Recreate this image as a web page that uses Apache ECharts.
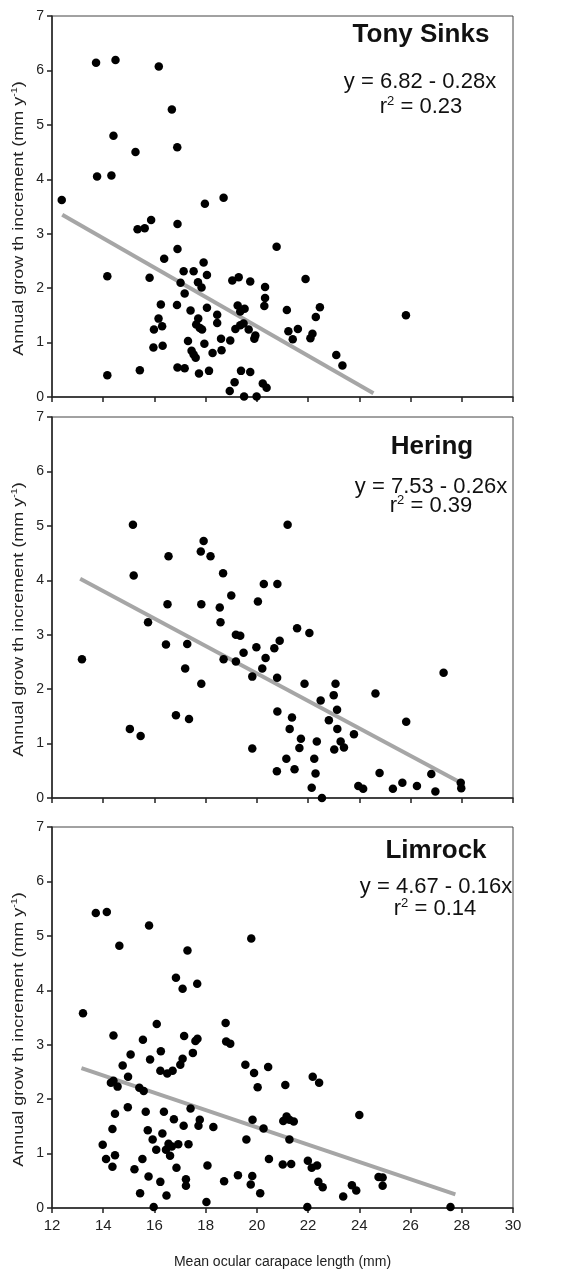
<!DOCTYPE html>
<html>
<head>
<meta charset="utf-8">
<script src="https://cdn.jsdelivr.net/npm/echarts@6/dist/echarts.min.js"></script>
<style>
html,body{margin:0;padding:0;background:#fff;}
#chart{width:574px;height:1270px;}
</style>
</head>
<body>
<div id="chart"></div>
<script>
// ---------- DATA ----------
var panelNames = ['Tony Sinks', 'Hering', 'Limrock'];
var equations = ['y = 6.82 - 0.28x', 'y = 7.53 - 0.26x', 'y = 4.67 - 0.16x'];
var rSquared = ['0.23', '0.39', '0.14'];
var xTicks = [12, 14, 16, 18, 20, 22, 24, 26, 28, 30];
var yTicks = [0, 1, 2, 3, 4, 5, 6, 7];

var tonyX = [12.38,13.72,14.48,16.17,16.68,14.40,15.26,16.89,13.76,14.32,17.97,18.70,15.34,15.62,15.87,16.90,16.90,20.77,16.38,14.16,
  15.81,17.14,17.53,17.92,18.05,17.02,17.70,17.84,17.18,19.04,19.29,19.74,20.32,20.32,20.29,21.90,16.25,16.88,17.41,18.05,
  18.45,18.45,19.25,19.35,19.52,16.16,16.30,17.71,17.63,17.77,17.86,15.98,19.16,19.35,19.48,19.68,19.94,19.90,21.17,21.23,
  21.60,21.40,22.46,22.30,22.17,22.09,25.82,15.96,16.32,17.31,17.45,17.53,17.61,17.95,18.60,18.27,18.62,18.96,23.10,23.34,
  14.16,15.43,16.90,17.18,17.74,18.13,19.38,19.74,19.13,18.94,19.50,19.99,20.23,20.38];
var tonyY = [3.62,6.14,6.19,6.07,5.28,4.80,4.50,4.59,4.05,4.07,3.55,3.66,3.08,3.10,3.25,3.18,2.72,2.76,2.54,2.22,
  2.19,2.31,2.31,2.47,2.24,2.10,2.11,2.01,1.90,2.14,2.20,2.12,2.02,1.82,1.67,2.17,1.70,1.69,1.59,1.64,
  1.51,1.36,1.68,1.57,1.62,1.44,1.30,1.44,1.33,1.27,1.24,1.24,1.25,1.32,1.35,1.24,1.13,1.07,1.60,1.21,
  1.25,1.06,1.65,1.47,1.16,1.08,1.50,0.91,0.94,1.03,0.85,0.78,0.72,0.98,1.07,0.81,0.86,1.04,0.77,0.58,
  0.40,0.49,0.54,0.53,0.43,0.48,0.48,0.46,0.27,0.11,0.01,0.01,0.25,0.17];
var tonyFitX = [12.4, 24.55];
var tonyFitY = [3.35, 0.07];

var heringX = [15.16,21.20,17.92,17.81,18.19,16.55,15.19,18.68,20.27,20.80,19.00,16.51,17.83,18.55,20.04,15.75,18.58,13.17,16.45,17.28,
  17.20,17.83,16.84,17.35,15.04,15.46,18.70,19.18,19.35,19.18,19.48,19.98,20.34,20.21,19.82,20.68,20.89,20.79,21.57,22.05,
  21.86,20.80,21.37,21.28,21.72,21.66,19.82,21.15,20.78,21.47,22.34,22.24,22.29,22.14,22.54,22.49,23.00,23.07,23.13,22.81,
  23.14,23.27,23.02,23.40,23.79,24.63,25.83,23.96,24.15,24.79,25.31,25.68,26.25,26.81,26.97,27.29,27.96,27.98];
var heringY = [5.02,5.02,4.72,4.53,4.44,4.44,4.09,4.13,3.93,3.93,3.72,3.56,3.56,3.50,3.61,3.23,3.23,2.55,2.82,2.83,
  2.38,2.10,1.52,1.45,1.27,1.14,2.55,3.00,2.98,2.51,2.67,2.77,2.57,2.38,2.23,2.75,2.89,2.21,3.12,3.03,
  2.10,1.59,1.48,1.27,1.09,0.92,0.91,0.72,0.49,0.53,1.04,0.72,0.45,0.19,0.00,1.79,1.89,2.10,1.62,1.43,
  1.27,1.04,0.89,0.93,1.17,1.92,1.40,0.22,0.17,0.46,0.17,0.28,0.22,0.44,0.12,2.30,0.28,0.18];
var heringFitX = [13.1, 28.0];
var heringFitY = [4.03, 0.27];

var limrockX = [13.21,13.71,14.14,14.63,15.79,19.78,17.29,16.84,17.10,17.67,16.09,18.78,14.40,15.55,17.16,17.60,17.68,18.80,18.96,16.25,
  17.50,15.07,14.76,15.83,17.10,17.01,16.23,16.50,16.71,19.55,19.89,20.44,20.03,21.11,22.18,22.43,14.97,14.30,14.40,14.56,
  15.41,15.58,14.96,14.46,14.36,15.66,16.37,16.76,17.14,17.41,17.72,17.77,18.30,15.74,16.31,19.83,20.26,19.59,21.03,21.16,
  21.27,21.44,21.27,24.00,13.98,14.11,14.36,14.46,15.22,15.53,15.93,16.07,16.45,16.55,16.61,16.68,16.93,17.33,16.86,18.07,
  15.77,15.44,16.23,16.47,15.97,17.23,17.23,18.03,18.72,19.26,19.82,19.76,20.13,20.47,21.01,21.34,21.99,22.14,22.35,22.40,
  22.57,21.97,23.37,23.71,23.88,24.75,24.91,24.91,27.56];
var limrockY = [3.58,5.42,5.44,4.82,5.19,4.95,4.73,4.23,4.03,4.12,3.38,3.40,3.17,3.09,3.16,3.07,3.11,3.06,3.02,2.88,
  2.85,2.82,2.62,2.73,2.74,2.63,2.52,2.47,2.52,2.63,2.48,2.59,2.22,2.26,2.41,2.30,2.41,2.30,2.34,2.23,
  2.21,2.15,1.85,1.73,1.45,1.77,1.77,1.63,1.51,1.83,1.51,1.62,1.49,1.43,1.37,1.62,1.46,1.26,1.60,1.68,
  1.62,1.59,1.26,1.71,1.16,0.90,0.76,0.97,0.71,0.90,1.26,1.07,1.07,1.18,0.96,1.13,1.17,1.17,0.74,0.78,
  0.58,0.27,0.48,0.23,0.02,0.53,0.41,0.11,0.49,0.60,0.59,0.43,0.27,0.90,0.80,0.81,0.87,0.74,0.78,0.48,
  0.38,0.02,0.21,0.42,0.32,0.57,0.56,0.41,0.02];
var limrockFitX = [13.15, 27.75];
var limrockFitY = [2.57, 0.25];

var xTitle = 'Mean ocular carapace length (mm)';
var yTitleMain = 'Annual grow th increment (mm y';
var yTitleSup = '-1';

// ---------- BUILD ----------
function zip(a, b) { var o = []; for (var i = 0; i < a.length; i++) o.push([a[i], b[i]]); return o; }
var ptsX = [tonyX, heringX, limrockX];
var ptsY = [tonyY, heringY, limrockY];
var fitX = [tonyFitX, heringFitX, limrockFitX];
var fitY = [tonyFitY, heringFitY, limrockFitY];

var FONT = '"Liberation Sans", Arial, Helvetica, sans-serif';
var tops = [16, 417, 827];
var plotH = 381;
var gridLeft = 52, gridW = 461;

var grids = [], xAxes = [], yAxes = [], series = [], graphics = [];
var titlePos = [[421, 35], [432, 447], [436, 851]];
var eqPos = [[420, 82], [431, 487], [436, 887]];
var r2Pos = [[421, 107], [431, 506], [435, 909]];

for (var p = 0; p < 3; p++) {
  grids.push({ left: gridLeft, top: tops[p], width: gridW, height: plotH,
    show: true, borderColor: '#444', borderWidth: 1, backgroundColor: 'transparent' });
  var isLast = (p === 2);
  xAxes.push({
    gridIndex: p, type: 'value', min: xTicks[0], max: xTicks[xTicks.length - 1], interval: 2,
    axisLine: { show: true, onZero: false, lineStyle: { color: '#222', width: 1.5 } },
    axisTick: { show: true, inside: false, length: 5, lineStyle: { color: '#222', width: 1.5 } },
    axisLabel: { show: isLast, margin: 10, color: '#222', fontSize: 15, fontFamily: FONT },
    splitLine: { show: false },
    name: isLast ? xTitle : '', nameLocation: 'middle', nameGap: 47,
    nameTextStyle: { color: '#222', fontSize: 14, fontFamily: FONT }
  });
  yAxes.push({
    gridIndex: p, type: 'value', min: yTicks[0], max: yTicks[yTicks.length - 1], interval: 1,
    axisLine: { show: true, onZero: false, lineStyle: { color: '#222', width: 1.5 } },
    axisTick: { show: true, inside: false, length: 5, lineStyle: { color: '#222', width: 1.5 } },
    axisLabel: { show: true, margin: 8, color: '#222', fontSize: 14, fontFamily: FONT },
    splitLine: { show: false }
  });
  series.push({
    type: 'line', xAxisIndex: p, yAxisIndex: p, data: zip(fitX[p], fitY[p]),
    symbol: 'none', lineStyle: { color: '#a6a6a6', width: 4 }, z: 2, silent: true, animation: false
  });
  series.push({
    type: 'scatter', xAxisIndex: p, yAxisIndex: p, data: zip(ptsX[p], ptsY[p]),
    symbol: 'circle', symbolSize: 8.5, itemStyle: { color: '#000', opacity: 1 }, clip: false, z: 3, animation: false
  });

  graphics.push({ type: 'text', x: titlePos[p][0], y: titlePos[p][1], z: 10,
    style: { text: panelNames[p], fill: '#111', font: 'bold 26px ' + FONT,
      align: 'center', verticalAlign: 'middle', textAlign: 'center', textVerticalAlign: 'middle' } });
  graphics.push({ type: 'text', x: eqPos[p][0], y: eqPos[p][1], z: 10,
    style: { text: equations[p], fill: '#111', font: '22px ' + FONT,
      align: 'center', verticalAlign: 'middle', textAlign: 'center', textVerticalAlign: 'middle' } });
  graphics.push({ type: 'text', x: r2Pos[p][0], y: r2Pos[p][1], z: 10,
    style: { text: '{a|r}{s|2}{a| = ' + rSquared[p] + '}', fill: '#111',
      align: 'center', verticalAlign: 'middle', textAlign: 'center', textVerticalAlign: 'middle',
      rich: {
        a: { fontSize: 22, fontFamily: FONT, fill: '#111', color: '#111' },
        s: { fontSize: 13, fontFamily: FONT, fill: '#111', color: '#111', padding: [0, 0, 12, 0] }
      } } });
  // y axis title
  graphics.push({ type: 'text', x: 19, y: tops[p] + plotH / 2 + 12, rotation: Math.PI / 2, scaleX: 1.2, z: 10,
    style: { text: '{a|' + yTitleMain + '}{s|' + yTitleSup + '}{a|)}', fill: '#222',
      align: 'center', verticalAlign: 'middle', textAlign: 'center', textVerticalAlign: 'middle',
      rich: {
        a: { fontSize: 15, fontFamily: FONT, fill: '#222', color: '#222' },
        s: { fontSize: 9, fontFamily: FONT, fill: '#222', color: '#222', padding: [0, 0, 9, 0] }
      } } });
}

var chart = echarts.init(document.getElementById('chart'), null, { renderer: 'canvas' });
chart.setOption({
  backgroundColor: '#fff',
  animation: false,
  grid: grids,
  xAxis: xAxes,
  yAxis: yAxes,
  series: series,
  graphic: graphics
});
</script>
</body>
</html>
